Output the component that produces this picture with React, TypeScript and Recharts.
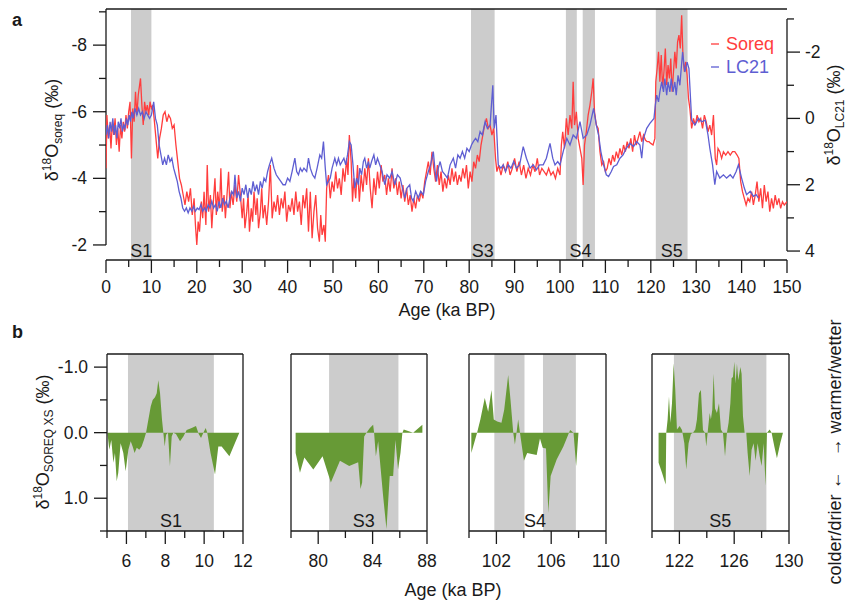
import React from 'react';
import {
  LineChart,
  Line,
  AreaChart,
  Area,
  XAxis,
  YAxis,
  ReferenceArea,
  ReferenceLine,
} from 'recharts';

const FONT = '"Liberation Sans", Arial, Helvetica, sans-serif';
const INK = '#1a1a1a';
const GRAY = '#cccccc';
const GREEN = '#679a36';
const RED = '#ff3d3d';
const BLUE = '#5e5ed2';

// Soreq Cave speleothem d18O, [age ka BP, permil]
const soreqPoints: [number, number][] = [
  [0.0, -4.3], [0.2, -5.9], [0.5, -5.2], [0.8, -5.6], [1.1, -4.9], [1.4, -5.7], [1.7, -5.3], [2.0, -5.8], [2.3, -5.0], [2.6, -5.5],
  [2.9, -4.8], [3.2, -5.6], [3.5, -5.2], [3.8, -5.7], [4.1, -5.4], [4.4, -5.9], [4.7, -5.5], [5.0, -6.0], [5.3, -6.3], [5.6, -4.6],
  [5.9, -6.1], [6.2, -5.7], [6.5, -6.6], [6.8, -5.9], [7.1, -6.5], [7.4, -6.8], [7.6, -7.0], [7.9, -6.2], [8.2, -5.6], [8.5, -6.3],
  [8.8, -6.0], [9.1, -6.2], [9.4, -5.9], [9.7, -6.3], [10.0, -6.1], [10.3, -6.2], [10.6, -5.8], [11.0, -5.2], [11.4, -4.6], [11.8, -5.2],
  [12.2, -5.5], [12.6, -5.9], [13.0, -6.0], [13.4, -5.7], [13.8, -5.9], [14.2, -5.8], [14.6, -5.5], [15.0, -5.6], [15.4, -5.0], [15.8, -4.5],
  [16.2, -4.0], [16.6, -3.8], [17.0, -3.5], [17.4, -3.2], [17.8, -3.6], [18.2, -3.3], [18.6, -3.7], [19.0, -2.9], [19.4, -3.4], [19.7, -2.6],
  [20.0, -2.0], [20.3, -2.7], [20.6, -2.4], [21.0, -3.3], [21.3, -2.8], [21.6, -3.6], [22.0, -2.6], [22.3, -4.4], [22.6, -3.0], [23.0, -3.5],
  [23.3, -2.5], [23.6, -3.2], [24.0, -4.0], [24.3, -2.9], [24.6, -3.6], [25.0, -3.1], [25.3, -4.3], [25.6, -3.0], [26.0, -3.5], [26.3, -2.8],
  [26.6, -3.4], [27.0, -4.2], [27.3, -3.1], [27.6, -3.6], [28.0, -3.2], [28.4, -3.8], [28.8, -3.3], [29.2, -4.1], [29.6, -3.5], [30.0, -2.8],
  [30.3, -3.4], [30.6, -2.5], [31.0, -3.0], [31.3, -3.5], [31.6, -2.4], [32.0, -3.1], [32.3, -2.7], [32.6, -3.6], [33.0, -2.9], [33.3, -3.4],
  [33.6, -2.5], [34.0, -3.0], [34.3, -3.7], [34.6, -2.8], [35.0, -3.2], [35.4, -2.6], [35.8, -3.3], [36.2, -4.4], [36.6, -2.8], [37.0, -3.3],
  [37.4, -3.0], [37.8, -3.5], [38.2, -2.9], [38.6, -3.4], [39.0, -3.1], [39.4, -3.6], [39.8, -2.7], [40.2, -3.2], [40.6, -3.0], [41.0, -3.4],
  [41.4, -2.9], [41.8, -3.6], [42.2, -3.0], [42.6, -3.3], [43.0, -2.6], [43.4, -3.5], [43.8, -3.1], [44.2, -3.7], [44.6, -2.4], [45.0, -3.6],
  [45.4, -2.2], [45.8, -3.0], [46.2, -3.5], [46.6, -2.5], [47.0, -2.1], [47.3, -2.9], [47.6, -2.3], [48.0, -2.6], [48.3, -2.1], [48.6, -3.7],
  [49.0, -4.1], [49.4, -3.4], [49.8, -3.9], [50.2, -3.6], [50.6, -4.2], [51.0, -3.7], [51.4, -4.0], [51.8, -3.5], [52.2, -4.3], [52.6, -3.9],
  [53.0, -4.6], [53.3, -4.1], [53.6, -5.3], [54.0, -4.5], [54.3, -3.3], [54.6, -4.0], [55.0, -3.4], [55.4, -4.4], [55.8, -3.3], [56.2, -4.1],
  [56.6, -3.6], [57.0, -4.3], [57.4, -3.8], [57.8, -4.6], [58.2, -3.7], [58.6, -3.1], [59.0, -4.0], [59.4, -3.5], [59.8, -4.2], [60.2, -3.7],
  [60.6, -4.4], [61.0, -3.9], [61.4, -4.1], [61.8, -3.5], [62.2, -4.0], [62.6, -3.6], [63.0, -4.3], [63.4, -3.7], [63.8, -4.0], [64.2, -3.5],
  [64.6, -3.9], [65.0, -3.4], [65.4, -3.8], [65.8, -3.3], [66.2, -3.7], [66.6, -3.2], [67.0, -3.5], [67.4, -3.0], [67.8, -3.4], [68.2, -3.1],
  [68.6, -3.5], [69.0, -3.3], [69.4, -3.6], [69.8, -3.4], [70.2, -3.9], [70.6, -4.2], [71.0, -4.5], [71.4, -4.1], [71.8, -4.8], [72.2, -4.3],
  [72.6, -3.9], [73.0, -4.4], [73.4, -3.8], [73.8, -4.2], [74.2, -3.6], [74.6, -4.0], [75.0, -3.7], [75.4, -4.1], [75.8, -3.8], [76.2, -4.3],
  [76.6, -3.9], [77.0, -4.2], [77.4, -3.8], [77.8, -4.1], [78.2, -3.9], [78.6, -4.3], [79.0, -4.0], [79.4, -4.4], [79.8, -3.7], [80.2, -4.2],
  [80.6, -3.9], [81.0, -4.5], [81.4, -4.3], [81.8, -4.7], [82.2, -4.5], [82.6, -5.0], [83.0, -5.3], [83.4, -5.6], [83.8, -5.8], [84.2, -5.5],
  [84.6, -5.6], [85.0, -5.3], [85.4, -5.5], [85.8, -4.6], [86.1, -4.2], [86.5, -4.4], [87.0, -4.1], [87.5, -4.4], [88.0, -4.2], [88.5, -4.5],
  [89.0, -4.1], [89.5, -4.3], [90.0, -4.6], [90.5, -4.2], [91.0, -4.5], [91.5, -4.1], [92.0, -4.4], [92.5, -4.0], [93.0, -4.3], [93.5, -4.1],
  [94.0, -4.4], [94.5, -4.2], [95.0, -4.6], [95.5, -4.1], [96.0, -4.3], [96.5, -4.2], [97.0, -4.1], [97.5, -4.3], [98.0, -4.1], [98.5, -4.2],
  [99.0, -4.0], [99.5, -4.3], [100.0, -4.1], [100.3, -5.0], [100.6, -5.4], [101.0, -4.9], [101.4, -5.8], [101.8, -5.3], [102.2, -5.9], [102.6, -5.5],
  [102.9, -6.9], [103.2, -5.6], [103.6, -6.0], [104.0, -5.2], [104.4, -4.9], [104.8, -4.6], [105.1, -3.8], [105.4, -5.0], [105.8, -5.4], [106.2, -5.9],
  [106.6, -6.2], [107.0, -6.6], [107.3, -7.0], [107.6, -6.0], [108.0, -5.6], [108.4, -5.5], [108.8, -4.8], [109.2, -4.4], [109.6, -4.5], [110.0, -4.2],
  [110.4, -4.3], [110.8, -4.6], [111.2, -4.4], [111.6, -4.7], [112.0, -4.5], [112.4, -4.8], [112.8, -4.6], [113.2, -4.9], [113.6, -4.7], [114.0, -5.0],
  [114.4, -4.8], [114.8, -5.1], [115.2, -4.9], [115.6, -5.2], [116.0, -4.8], [116.4, -5.3], [116.8, -5.0], [117.2, -5.2], [117.6, -5.4], [118.0, -5.1],
  [118.4, -5.3], [118.8, -5.15], [119.2, -5.1], [119.6, -5.1], [120.0, -5.05], [120.5, -5.0], [120.9, -5.2], [121.1, -6.9], [121.4, -7.3], [121.7, -7.8],
  [122.0, -6.9], [122.3, -7.7], [122.6, -6.7], [122.9, -7.2], [123.2, -7.9], [123.5, -6.8], [123.8, -7.4], [124.1, -7.0], [124.4, -7.6], [124.7, -6.6],
  [125.0, -7.2], [125.3, -7.8], [125.6, -7.3], [125.9, -8.1], [126.2, -8.3], [126.5, -7.9], [126.8, -8.9], [127.1, -7.6], [127.4, -7.2], [127.7, -7.5],
  [128.0, -7.1], [128.3, -6.4], [128.6, -6.1], [129.0, -5.5], [129.4, -5.8], [129.8, -5.6], [130.2, -5.9], [130.6, -5.7], [131.0, -5.8], [131.4, -5.5],
  [131.8, -5.9], [132.2, -5.7], [132.6, -5.4], [133.0, -5.6], [133.4, -5.3], [133.8, -5.9], [134.2, -4.6], [134.5, -4.4], [134.8, -4.9], [135.2, -4.8],
  [135.6, -4.6], [136.0, -4.8], [136.5, -4.7], [137.0, -4.8], [137.5, -4.7], [138.0, -4.8], [138.5, -4.8], [139.0, -4.7], [139.4, -4.6], [139.8, -3.9],
  [140.2, -3.6], [140.6, -3.4], [141.0, -3.2], [141.4, -3.4], [141.8, -3.3], [142.2, -3.6], [142.6, -3.2], [143.0, -3.5], [143.4, -3.9], [143.8, -3.3],
  [144.2, -3.7], [144.6, -3.1], [145.0, -3.8], [145.4, -3.3], [145.8, -3.6], [146.2, -3.0], [146.6, -3.4], [147.0, -3.1], [147.4, -3.5], [147.8, -3.2],
  [148.2, -3.4], [148.6, -3.1], [149.0, -3.3], [149.4, -3.2], [150.0, -3.3],
];

// LC21 marine core d18O, [age ka BP, permil]
const lc21Points: [number, number][] = [
  [0.0, 0.5], [0.3, 0.2], [0.6, 0.6], [0.9, 0.1], [1.2, 0.4], [1.5, 0.0], [1.8, 0.5], [2.1, 0.2], [2.4, 0.6], [2.7, 0.1],
  [3.0, 0.3], [3.3, 0.0], [3.6, 0.4], [3.9, 0.2], [4.2, 0.3], [4.5, 0.0], [4.8, 0.2], [5.1, -0.1], [5.4, 0.1], [5.7, -0.2],
  [6.0, 0.0], [6.4, -0.3], [6.8, -0.1], [7.2, -0.3], [7.6, -0.1], [8.0, -0.2], [8.4, 0.0], [8.8, -0.2], [9.2, -0.1], [9.6, 0.0],
  [10.0, -0.1], [10.5, -0.5], [10.9, 0.0], [11.3, 0.2], [11.7, 0.8], [12.1, 1.1], [12.5, 1.4], [12.9, 1.2], [13.3, 1.4], [13.7, 1.1],
  [14.1, 1.3], [14.5, 1.2], [14.9, 1.5], [15.3, 1.7], [15.7, 1.9], [16.1, 2.2], [16.5, 2.4], [16.9, 2.7], [17.3, 2.8], [17.7, 2.7],
  [18.1, 2.85], [18.5, 2.7], [18.9, 2.8], [19.3, 2.65], [19.7, 2.8], [20.1, 2.7], [20.5, 2.75], [20.9, 2.6], [21.3, 2.8], [21.7, 2.7],
  [22.1, 2.8], [22.5, 2.6], [22.9, 2.7], [23.3, 2.5], [23.7, 2.7], [24.1, 2.6], [24.5, 2.8], [24.9, 2.5], [25.3, 2.7], [25.7, 2.4],
  [26.1, 2.6], [26.5, 2.5], [26.9, 2.7], [27.3, 2.4], [27.7, 2.2], [28.1, 2.3], [28.4, 1.7], [28.8, 2.4], [29.2, 2.2], [29.6, 2.5],
  [30.0, 2.1], [30.4, 2.3], [30.8, 2.0], [31.2, 2.4], [31.6, 2.1], [32.0, 2.3], [32.4, 1.9], [32.8, 2.2], [33.2, 2.0], [33.6, 2.3],
  [34.0, 1.9], [34.4, 2.1], [34.8, 1.8], [35.2, 1.9], [35.6, 1.6], [36.0, 1.4], [36.5, 1.2], [37.0, 1.5], [37.5, 1.7], [38.0, 1.8],
  [38.5, 1.9], [39.0, 2.0], [39.5, 2.0], [40.0, 1.8], [40.5, 1.9], [41.0, 1.6], [41.6, 1.2], [42.0, 1.6], [42.4, 1.7], [42.8, 1.5],
  [43.2, 1.6], [43.6, 1.5], [44.2, 1.6], [44.6, 1.2], [45.0, 1.5], [45.5, 1.7], [46.0, 1.8], [46.5, 1.5], [47.1, 1.1], [47.5, 1.2],
  [47.9, 0.7], [48.3, 1.5], [48.6, 2.0], [49.0, 1.9], [49.4, 1.8], [49.8, 1.5], [50.4, 1.2], [50.8, 1.4], [51.2, 1.2], [51.6, 1.4],
  [52.0, 1.3], [52.4, 1.2], [52.8, 1.4], [53.2, 1.1], [53.6, 0.7], [54.0, 0.8], [54.4, 1.4], [54.8, 2.1], [55.2, 1.8], [55.6, 2.0],
  [55.9, 1.5], [56.3, 1.7], [56.7, 1.3], [57.0, 1.2], [57.4, 1.5], [57.8, 1.3], [58.1, 1.5], [58.5, 1.3], [59.0, 1.1], [59.4, 1.4],
  [59.8, 1.2], [60.3, 1.4], [60.8, 1.6], [61.4, 2.0], [61.9, 1.7], [62.5, 1.8], [63.0, 1.6], [63.6, 2.0], [64.2, 1.7], [64.8, 1.8],
  [65.3, 2.1], [65.8, 2.4], [66.3, 2.1], [66.9, 2.0], [67.3, 2.4], [67.7, 2.5], [68.2, 2.2], [68.8, 2.4], [69.3, 2.2], [69.9, 2.3],
  [70.4, 1.9], [71.0, 1.6], [71.5, 1.4], [72.1, 1.0], [72.5, 1.6], [72.8, 1.9], [73.2, 1.5], [73.6, 1.3], [74.1, 1.6], [74.7, 1.7],
  [75.2, 1.8], [75.8, 1.4], [76.5, 1.2], [77.0, 1.5], [77.5, 1.1], [78.0, 1.2], [78.5, 1.0], [79.0, 1.2], [79.5, 0.9], [80.0, 1.0],
  [80.5, 0.8], [80.9, 0.7], [81.4, 0.6], [81.9, 0.7], [82.4, 0.4], [82.9, 0.5], [83.5, 0.1], [84.0, 0.3], [84.6, 0.2], [85.2, -1.0],
  [85.5, 0.3], [85.9, -0.1], [86.4, 1.4], [87.0, 1.5], [87.5, 1.4], [88.0, 1.6], [88.6, 1.4], [89.2, 1.5], [89.8, 1.3], [90.4, 1.5],
  [91.1, 1.4], [91.9, 0.85], [92.6, 1.2], [93.4, 1.5], [94.1, 1.4], [94.8, 1.55], [95.5, 1.4], [96.3, 1.4], [97.0, 1.2], [97.8, 0.75],
  [98.4, 1.2], [98.9, 1.4], [99.5, 1.3], [100.0, 1.4], [100.7, 1.0], [101.5, 0.6], [102.2, 0.8], [102.9, 0.5], [103.6, 0.6], [104.4, 0.1],
  [105.1, 0.6], [105.9, 0.5], [106.6, 0.2], [107.4, -0.3], [108.0, 0.2], [108.5, 0.5], [109.0, 1.0], [109.6, 1.4], [110.2, 1.7], [110.7, 1.75],
  [111.3, 1.6], [111.8, 1.45], [112.5, 1.4], [113.2, 1.2], [113.9, 1.1], [114.6, 0.9], [115.4, 0.75], [116.2, 0.85], [116.9, 0.7], [117.6, 0.8],
  [118.0, 1.2], [118.4, 0.6], [119.1, 0.3], [119.8, 0.15], [120.7, 0.0], [121.0, -0.4], [121.3, -0.7], [121.7, -0.5], [122.0, -0.8], [122.4, -1.1],
  [122.8, -0.8], [123.1, -1.2], [123.5, -0.7], [123.8, -1.1], [124.2, -0.8], [124.5, -1.2], [124.9, -0.8], [125.3, -1.1], [125.6, -0.7], [126.0, -1.3],
  [126.4, -1.0], [127.0, -2.0], [127.5, -1.4], [128.0, -1.7], [128.4, -1.5], [129.0, 0.05], [129.7, 0.2], [130.5, 0.0], [131.2, 0.1], [132.0, 0.05],
  [132.6, 0.5], [133.0, 0.9], [133.6, 1.4], [134.1, 2.0], [134.5, 1.6], [135.2, 1.8], [136.0, 1.7], [136.7, 1.8], [137.5, 1.7], [138.1, 1.8],
  [138.8, 1.6], [139.3, 1.4], [140.0, 1.8], [140.6, 2.1], [141.1, 2.3], [141.9, 2.2], [142.6, 2.35], [143.2, 2.3], [143.7, 2.4],
];

// Soreq excess relative to LC21 around each sapropel
const s1Xs: [number, number][] = [
  [5.02, 0], [5.12, 0.26], [5.22, 0.11], [5.33, 0.46], [5.41, 0.31], [5.5, 0.74], [5.58, 0.61], [5.7, 0.16], [5.84, 0.31], [5.96, 0.59],
  [6.1, 0.26], [6.22, 0.13], [6.32, 0.21], [6.42, 0.31], [6.53, 0.23], [6.66, 0.26], [6.78, 0.21], [6.9, 0.11], [7.01, 0], [7.13, -0.2],
  [7.25, -0.4], [7.35, -0.5], [7.47, -0.54], [7.56, -0.6], [7.64, -0.8], [7.73, -0.6], [7.83, -0.2], [7.9, 0], [7.97, 0.21], [8.04, 0.03],
  [8.14, 0], [8.24, 0.51], [8.33, 0.06], [8.41, 0], [8.55, 0.02], [8.76, 0.13], [8.93, 0.06], [9.1, -0.04], [9.36, -0.07], [9.58, -0.1],
  [9.72, 0.02], [9.84, 0.08], [9.96, 0], [10.08, -0.07], [10.16, 0], [10.33, 0.31], [10.56, 0.64], [10.73, 0.21], [10.9, 0.21], [11.3, 0.36],
  [11.81, 0],
];
const s3Xs: [number, number][] = [
  [78.34, 0.31], [78.66, 0.61], [78.98, 0.38], [79.64, 0.56], [80.32, 0.36], [80.93, 0.76], [81.6, 0.43], [82.28, 0.51], [82.94, 0.45], [83.11, 0.86],
  [83.23, 0.76], [83.38, 0.06], [83.55, 0], [83.8, -0.07], [84.04, -0.12], [84.11, 0], [84.24, 0.36], [84.41, 0.13], [84.77, 0.96], [85.02, 1.47],
  [85.26, 0.66], [85.51, 0.66], [85.68, 0.11], [85.87, 0.56], [86.05, 0.31], [86.19, 0], [86.29, -0.05], [86.98, 0], [87.66, -0.12],
];
const s4Xs: [number, number][] = [
  [100.17, 0.31], [100.59, 0], [100.83, -0.2], [101.15, -0.53], [101.4, -0.32], [101.64, -0.65], [101.81, -0.2], [102.06, -0.17], [102.37, -0.15], [102.57, -0.35],
  [102.86, -0.88], [103.03, -0.5], [103.23, 0], [103.35, 0.18], [103.47, 0], [103.59, -0.2], [103.72, 0], [104.01, 0.43], [104.25, 0.31], [104.5, 0.32],
  [104.94, 0.34], [105.18, 0.09], [105.38, 0.23], [105.62, 0.24], [105.79, 1.22], [105.96, 0.66], [106.4, 0.41], [106.89, 0.21], [107.38, -0.04], [107.63, 0],
  [107.82, 0.51], [107.99, 0],
];
const s5Xs: [number, number][] = [
  [120.48, 0.46], [120.73, 0.61], [121.0, 0.79], [121.04, 0], [121.14, -0.2], [121.24, -0.55], [121.34, -0.15], [121.46, -0.45], [121.58, -1.06], [121.7, -0.65],
  [121.82, -0.05], [122.02, -0.1], [122.19, -0.04], [122.36, 0.16], [122.5, 0.56], [122.67, 0.16], [122.84, 0.02], [122.99, 0], [123.16, -0.05], [123.28, -0.2],
  [123.43, -0.6], [123.57, -0.65], [123.72, -0.04], [123.87, 0], [123.96, 0.21], [124.06, 0], [124.21, -0.3], [124.3, -0.2], [124.4, -0.35], [124.5, -0.9],
  [124.6, -0.37], [124.74, -0.3], [124.89, -0.45], [125.03, -0.05], [125.18, 0], [125.33, 0.36], [125.47, 0], [125.59, -0.15], [125.72, -0.45], [125.81, -0.83],
  [125.91, -0.85], [126.01, -1.08], [126.1, -0.75], [126.2, -1.05], [126.3, -0.8], [126.45, -1.0], [126.54, -0.9], [126.64, -0.25], [126.76, 0], [126.88, 0],
  [126.98, 0.31], [127.13, 0.66], [127.27, 0.26], [127.42, 0.16], [127.56, 0.43], [127.71, 0.16], [127.86, 0.36], [128.0, 0.51], [128.15, 0.16], [128.29, 0.81],
  [128.39, 0], [128.59, -0.05], [128.73, 0], [128.93, 0.21], [129.12, 0.39], [129.36, 0.16], [129.56, 0],
];

// sapropel intervals (ka BP)
const topBands: [string, number, number][] = [
  ['S1', 5.5, 10.0],
  ['S3', 80.4, 85.6],
  ['', 101.3, 103.7],
  ['', 105.0, 107.7],
  ['S5', 121.1, 128.1],
];
const s1Bands: [number, number][] = [[6.08, 10.5]];
const s3Bands: [number, number][] = [[80.8, 85.9]];
const s4Bands: [number, number][] = [[101.85, 104.05], [105.4, 107.8]];
const s5Bands: [number, number][] = [[121.6, 128.35]];

const ageTicks = [0, 5, 10, 15, 20, 25, 30, 35, 40, 45, 50, 55, 60, 65, 70, 75, 80, 85, 90, 95, 100, 105, 110, 115, 120, 125, 130, 135, 140, 145, 150];
const soreqTicks = [-9, -8, -7, -6, -5, -4, -3, -2];
const lc21Ticks = [-3, -2, -1, 0, 1, 2, 3, 4];
const xsTicks = [-1, -0.5, 0, 0.5, 1, 1.5];
const s1AgeTicks = [5, 6, 7, 8, 9, 10, 11, 12];
const s3AgeTicks = [78, 80, 82, 84, 86, 88];
const s4AgeTicks = [100, 102, 104, 106, 108, 110];
const s5AgeTicks = [120, 122, 124, 126, 128, 130];

const soreqData = soreqPoints.map(([age, v]) => ({ age, v }));
const lc21Data = lc21Points.map(([age, v]) => ({ age, v }));

const axisStroke = { stroke: INK, strokeWidth: 1.3 };
const tickFont = { fontSize: 17.5, fill: INK, fontFamily: FONT };

// tick renderers: long ticks carry a label, short ones don't
const bottomTick = (isMajor: (v: number) => boolean, labelDy: number) => (p: any) => {
  const v = p.payload.value;
  const major = isMajor(v);
  return (
    <g>
      <line x1={p.x} x2={p.x} y1={p.y} y2={p.y + (major ? 13 : 7)} stroke={INK} strokeWidth={1.3} />
      {major && (
        <text x={p.x} y={p.y + labelDy} textAnchor="middle" {...tickFont}>
          {v}
        </text>
      )}
    </g>
  );
};

const leftTick = (isMajor: (v: number) => boolean, fmt: (v: number) => string) => (p: any) => {
  const v = p.payload.value;
  const major = isMajor(v);
  return (
    <g>
      <line x1={p.x - (major ? 13 : 7)} x2={p.x} y1={p.y} y2={p.y} stroke={INK} strokeWidth={1.3} />
      {major && (
        <text x={p.x - 19} y={p.y + 6} textAnchor="end" {...tickFont}>
          {fmt(v)}
        </text>
      )}
    </g>
  );
};

const rightTick = (isMajor: (v: number) => boolean) => (p: any) => {
  const v = p.payload.value;
  const major = isMajor(v);
  return (
    <g>
      <line x1={p.x} x2={p.x + (major ? 13 : 7)} y1={p.y} y2={p.y} stroke={INK} strokeWidth={1.3} />
      {major && (
        <text x={p.x + 18} y={p.y + 6} textAnchor="start" {...tickFont}>
          {v}
        </text>
      )}
    </g>
  );
};

const even = (v: number) => v % 2 === 0;

// axes are 1px thick so the plot box lands on 106..787 x 10..260
const TopPanel = () => (
  <LineChart width={846} height={330} margin={{ top: 9, right: 58, bottom: 69, left: 105 }}>
    <XAxis
      xAxisId="bottom"
      type="number"
      dataKey="age"
      domain={[0, 150]}
      ticks={ageTicks}
      interval={0}
      height={1}
      allowDataOverflow
      axisLine={axisStroke}
      tickLine={false}
      tickSize={0}
      tickMargin={0}
      tick={bottomTick((v) => v % 10 === 0, 33)}
    />
    <XAxis
      xAxisId="top"
      orientation="top"
      type="number"
      dataKey="age"
      domain={[0, 150]}
      ticks={ageTicks}
      interval={0}
      height={1}
      mirror
      allowDataOverflow
      axisLine={axisStroke}
      tickLine={axisStroke}
      tickSize={12}
      tick={false}
    />
    <YAxis
      yAxisId="left"
      type="number"
      domain={[-9.085, -1.548]}
      reversed
      ticks={soreqTicks}
      interval={0}
      width={1}
      allowDataOverflow
      axisLine={false}
      tickLine={false}
      tickSize={0}
      tickMargin={0}
      tick={leftTick(even, (v) => String(v))}
    />
    <YAxis
      yAxisId="right"
      orientation="right"
      type="number"
      domain={[-3.3, 4.27]}
      reversed
      ticks={lc21Ticks}
      interval={0}
      width={1}
      allowDataOverflow
      axisLine={false}
      tickLine={false}
      tickSize={0}
      tickMargin={0}
      tick={rightTick(even)}
    />
    {topBands.map(([name, x1, x2]) => (
      <ReferenceArea
        key={`${x1}`}
        xAxisId="bottom"
        yAxisId="left"
        x1={x1}
        x2={x2}
        fill={GRAY}
        fillOpacity={1}
        stroke="none"
        label={name ? { value: name, position: 'insideBottom', offset: 3, fontSize: 18, fill: INK } : undefined}
      />
    ))}
    {/* S4 tag sits under both S4 bars */}
    <ReferenceArea
      xAxisId="bottom"
      yAxisId="left"
      x1={101.3}
      x2={107.7}
      fillOpacity={0}
      stroke="none"
      label={{ value: 'S4', position: 'insideBottom', offset: 3, fontSize: 18, fill: INK }}
    />
    <ReferenceLine
      xAxisId="bottom"
      yAxisId="left"
      segment={[{ x: 0, y: -9.085 }, { x: 0, y: -2 }]}
      stroke={INK}
      strokeWidth={1.3}
      ifOverflow="visible"
    />
    <ReferenceLine
      xAxisId="bottom"
      yAxisId="right"
      segment={[{ x: 150, y: -3 }, { x: 150, y: 4 }]}
      stroke={INK}
      strokeWidth={1.3}
      ifOverflow="visible"
    />
    <Line
      xAxisId="bottom"
      yAxisId="left"
      data={soreqData}
      dataKey="v"
      type="linear"
      stroke={RED}
      strokeWidth={1.3}
      dot={false}
      activeDot={false}
      isAnimationActive={false}
    />
    <Line
      xAxisId="bottom"
      yAxisId="right"
      data={lc21Data}
      dataKey="v"
      type="linear"
      stroke={BLUE}
      strokeWidth={1.3}
      dot={false}
      activeDot={false}
      isAnimationActive={false}
    />
  </LineChart>
);

interface PanelProps {
  left: number;
  plotWidth: number;
  domain: [number, number];
  ticks: number[];
  isMajor: (v: number) => boolean;
  bands: [number, number][];
  tag: string;
  tagRange: [number, number];
  points: [number, number][];
  showY?: boolean;
}

const XsPanel = ({ left, plotWidth, domain, ticks, isMajor, bands, tag, tagRange, points, showY }: PanelProps) => {
  const data = points.map(([age, xs]) => ({ age, xs }));
  return (
    <div style={{ position: 'absolute', left: left - 60, top: 344 }}>
      <AreaChart width={plotWidth + 85} height={232} data={data} margin={{ top: 9, right: 24, bottom: 44, left: 59 }}>
        <XAxis
          type="number"
          dataKey="age"
          domain={domain}
          ticks={ticks}
          interval={0}
          height={1}
          allowDataOverflow
          axisLine={axisStroke}
          tickLine={false}
          tickSize={0}
          tickMargin={0}
          tick={bottomTick(isMajor, 36)}
        />
        <XAxis
          xAxisId="top"
          orientation="top"
          type="number"
          dataKey="age"
          domain={domain}
          height={1}
          allowDataOverflow
          axisLine={axisStroke}
          tickLine={false}
          tick={false}
        />
        <YAxis
          type="number"
          domain={[-1.2, 1.5]}
          reversed
          ticks={xsTicks}
          interval={0}
          width={1}
          allowDataOverflow
          axisLine={axisStroke}
          tickLine={false}
          tickSize={0}
          tickMargin={0}
          tick={showY ? leftTick((v) => Number.isInteger(v), (v) => v.toFixed(1)) : false}
        />
        <YAxis
          yAxisId="r"
          orientation="right"
          type="number"
          domain={[-1.2, 1.5]}
          width={1}
          allowDataOverflow
          axisLine={axisStroke}
          tickLine={false}
          tick={false}
        />
        {bands.map(([x1, x2]) => (
          <ReferenceArea key={x1} x1={x1} x2={x2} fill={GRAY} fillOpacity={1} stroke="none" />
        ))}
        <ReferenceArea
          x1={tagRange[0]}
          x2={tagRange[1]}
          fillOpacity={0}
          stroke="none"
          label={{ value: tag, position: 'insideBottom', offset: 4, fontSize: 18, fill: INK }}
        />
        <Area
          type="linear"
          dataKey="xs"
          baseValue={0}
          stroke="none"
          fill={GREEN}
          fillOpacity={1}
          dot={false}
          activeDot={false}
          isAnimationActive={false}
        />
      </AreaChart>
    </div>
  );
};

const panels: PanelProps[] = [
  { left: 107, plotWidth: 136, domain: [5, 12], ticks: s1AgeTicks, isMajor: even, bands: s1Bands, tag: 'S1', tagRange: [6.08, 10.5], points: s1Xs, showY: true },
  { left: 291, plotWidth: 136, domain: [78, 88], ticks: s3AgeTicks, isMajor: (v) => v % 4 === 0, bands: s3Bands, tag: 'S3', tagRange: [80.8, 85.9], points: s3Xs },
  { left: 469, plotWidth: 137, domain: [100, 110], ticks: s4AgeTicks, isMajor: (v) => (v - 102) % 4 === 0, bands: s4Bands, tag: 'S4', tagRange: [101.85, 107.8], points: s4Xs },
  { left: 652, plotWidth: 137, domain: [120, 130], ticks: s5AgeTicks, isMajor: (v) => (v - 122) % 4 === 0, bands: s5Bands, tag: 'S5', tagRange: [121.6, 128.35], points: s5Xs },
];

// titles, axis names and the legend
const Annotations = () => (
  <svg
    width={846}
    height={600}
    style={{ position: 'absolute', left: 0, top: 0, pointerEvents: 'none' }}
    fontFamily={FONT}
    fill={INK}
  >
    <text x={12} y={26} fontSize={18} fontWeight="bold">a</text>
    <text x={12} y={338} fontSize={18} fontWeight="bold">b</text>
    <text x={447} y={316} fontSize={18} textAnchor="middle">Age (ka BP)</text>
    <text x={453} y={596} fontSize={18} textAnchor="middle">Age (ka BP)</text>

    <text transform="translate(58,130) rotate(-90)" textAnchor="middle" fontSize={18}>
      δ<tspan fontSize={12} dy={-7}>18</tspan>
      <tspan dy={7}>O</tspan>
      <tspan fontSize={12} dy={4}>soreq</tspan>
      <tspan dy={-4}> (‰)</tspan>
    </text>
    <text transform="translate(840,115) rotate(-90)" textAnchor="middle" fontSize={18}>
      δ<tspan fontSize={12} dy={-7}>18</tspan>
      <tspan dy={7}>O</tspan>
      <tspan fontSize={12} dy={4}>LC21</tspan>
      <tspan dy={-4}> (‰)</tspan>
    </text>
    <text transform="translate(49,442) rotate(-90)" textAnchor="middle" fontSize={18}>
      δ<tspan fontSize={12} dy={-7}>18</tspan>
      <tspan dy={7}>O</tspan>
      <tspan fontSize={12} dy={4}>SOREQ XS</tspan>
      <tspan dy={-4}> (‰)</tspan>
    </text>
    <text
      transform="translate(841,452) rotate(-90)"
      textAnchor="middle"
      fontSize={18}
      style={{ whiteSpace: 'pre' }}
    >
      {'colder/drier ←   → warmer/wetter'}
    </text>

    <line x1={711} x2={719} y1={44} y2={44} stroke={RED} strokeWidth={1.3} />
    <text x={726} y={50} fontSize={18} fill={RED}>Soreq</text>
    <line x1={711} x2={719} y1={67} y2={67} stroke={BLUE} strokeWidth={1.3} />
    <text x={726} y={73} fontSize={18} fill={BLUE}>LC21</text>
  </svg>
);

export default function App() {
  return (
    <div
      style={{
        position: 'absolute',
        left: 0,
        top: 0,
        width: 846,
        height: 600,
        background: '#fff',
        fontFamily: FONT,
        overflow: 'hidden',
      }}
    >
      <div style={{ position: 'absolute', left: 0, top: 0 }}>
        <TopPanel />
      </div>
      {panels.map((p) => (
        <XsPanel key={p.tag} {...p} />
      ))}
      <Annotations />
    </div>
  );
}
